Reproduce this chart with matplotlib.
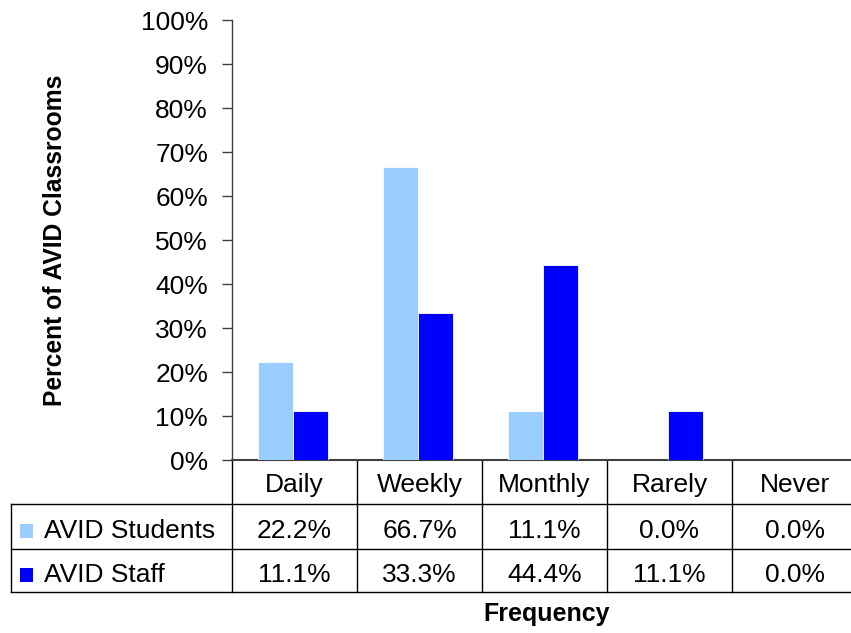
import matplotlib
matplotlib.use("Agg")
import matplotlib.pyplot as plt
from matplotlib.patches import Rectangle
from matplotlib.lines import Line2D
import matplotlib.transforms as mtransforms

plt.rcParams['font.family'] = ['Liberation Sans', 'DejaVu Sans']

# ---- data ----
categories = ["Daily", "Weekly", "Monthly", "Rarely", "Never"]
series_names = ["AVID Students", "AVID Staff"]
students = [22.2, 66.7, 11.1, 0.0, 0.0]
staff = [11.1, 33.3, 44.4, 11.1, 0.0]
yticks = list(range(0, 101, 10))
ytick_labels = [f"{v}%" for v in yticks]
colors = ["#99CCFF", "#0000FF"]

W, H = 851, 633
fig = plt.figure(figsize=(W / 100, H / 100), dpi=100)
fig.patch.set_facecolor("white")

def fx(x):
    return x / W

def fy(y):
    return 1 - y / H

ax_left, ax_top, ax_bottom, ax_right = 232, 20, 460, 857
ax = fig.add_axes([fx(ax_left), fy(ax_bottom), (ax_right - ax_left) / W, (ax_bottom - ax_top) / H])

n = len(categories)
xs = list(range(n))
bw = 0.28
ax.bar([x - 0.012 - bw / 2 for x in xs], students, width=bw, color=colors[0],
       edgecolor="white", linewidth=0.6, zorder=3)
ax.bar([x - 0.012 + bw / 2 for x in xs], staff, width=bw, color=colors[1],
       edgecolor="white", linewidth=0.6, zorder=3)

ax.set_xlim(-0.5, n - 0.5)
ax.set_ylim(0, 100)
ax.set_yticks(yticks)
ax.set_yticklabels(ytick_labels, fontsize=19)
ax.set_xticks([])
ax.tick_params(axis="y", length=7.2, width=1, color="#404040", pad=10)
for s in ["top", "right"]:
    ax.spines[s].set_visible(False)
ax.spines["left"].set_color("#404040")
ax.spines["left"].set_linewidth(1)
ax.spines["bottom"].set_color("#404040")
ax.spines["bottom"].set_linewidth(1.5)

# ---- data table below the axis ----
row_lines = [504, 549, 592]
header_base = 492
row_bases = [538, 582]
table_left = 11
bt = mtransforms.blended_transform_factory(ax.transData, fig.transFigure)

line_kw = dict(color="black", linewidth=1)
# horizontal lines
for y in row_lines:
    fig.add_artist(Line2D([fx(table_left), fx(ax_right)], [fy(y), fy(y)], **line_kw))
# vertical boundaries between categories (including left spine continuation)
for b in [i - 0.5 for i in range(n + 1)]:
    ax.add_line(Line2D([b, b], [fy(ax_bottom), fy(row_lines[-1])], transform=bt,
                       clip_on=False, **line_kw))
# left edge of row-label column
fig.add_artist(Line2D([fx(table_left), fx(table_left)], [fy(row_lines[0]), fy(row_lines[-1])], **line_kw))

# header labels
for i, c in enumerate(categories):
    ax.text(i, fy(header_base), c, transform=bt, ha="center", va="baseline", fontsize=19)

# rows
for r, (name, vals) in enumerate(zip(series_names, [students, staff])):
    base = row_bases[r]
    fig.add_artist(Rectangle((fx(20), fy(base)), 13 / W, 14 / H,
                             facecolor=colors[r], edgecolor="none", transform=fig.transFigure))
    fig.text(fx(44), fy(base), name, ha="left", va="baseline", fontsize=19)
    for i, v in enumerate(vals):
        ax.text(i, fy(base), f"{v:.1f}%", transform=bt, ha="center", va="baseline", fontsize=19)

# axis titles
fig.text(fx(547), fy(614), "Frequency", ha="center", va="center", fontsize=18, fontweight="bold")
fig.text(fx(55), fy(240), "Percent of AVID Classrooms", ha="center", va="center",
         rotation=90, fontsize=17.7, fontweight="bold")

fig.savefig("out.png", dpi=100)
